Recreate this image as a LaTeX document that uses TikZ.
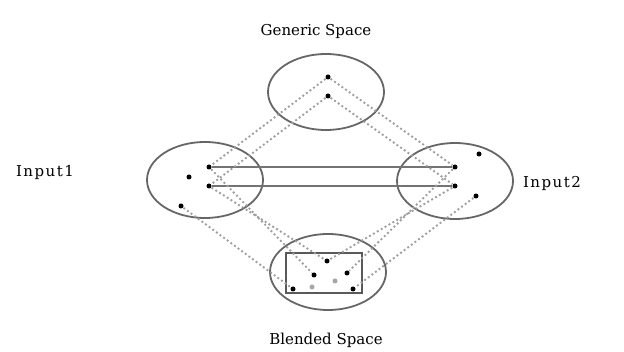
\documentclass[tikz,border=0pt]{standalone}
\usepackage{fontspec}
\setmainfont{DejaVu Serif}
\newfontfamily\spacedserif[LetterSpace=10]{DejaVu Serif}
\usetikzlibrary{shapes.geometric}

\begin{document}
\begin{tikzpicture}
[x=1pt, y=-1pt, line width=1.2pt,
space/.style={ellipse, draw=black!60, line width=1.8pt, minimum width=116pt, minimum height=76pt, inner sep=0pt},
element/.style={circle, fill=black, inner sep=0pt, minimum size=5pt},
faint/.style={element, fill=black!35},
projection/.style={draw=black!38, line width=1.9pt, dash pattern=on 1.9pt off 2.6pt},
counterpart/.style={draw=black!55, line width=2pt},
label/.style={font=\fontsize{15}{18}\selectfont}]

\useasboundingbox (0, 0) rectangle (624, 352);

\node[space] (generic) at (326, 92) {};
\node[space] (input1) at (205, 180) {};
\node[space] (input2) at (455, 181) {};
\node[space] (blend) at (328, 272) {};
\node[draw=black!65, line width=2.2pt, minimum width=76pt, minimum height=40pt, inner sep=0pt] (emergent) at (324, 273) {};

\node[element] (g1) at (328, 77) {};
\node[element] (g2) at (328, 96) {};

\node[element] (a1) at (209, 167) {};
\node[element] (a2) at (189, 177) {};
\node[element] (a3) at (209, 186) {};
\node[element] (a4) at (181, 206) {};

\node[element] (b1) at (479, 154) {};
\node[element] (b2) at (455, 167) {};
\node[element] (b3) at (455, 186) {};
\node[element] (b4) at (476, 196) {};

\node[element] (e1) at (327, 261) {};
\node[element] (e2) at (314, 275) {};
\node[element] (e3) at (347, 273) {};
\node[element] (e4) at (293, 289) {};
\node[element] (e5) at (353, 289) {};
\node[faint] (f1) at (312, 287) {};
\node[faint] (f2) at (335, 281) {};

% cross-space mapping
\draw[counterpart] (a1) -- (b2);
\draw[counterpart] (a3) -- (b3);

% generic -> inputs -> blend
\foreach \from/\to in {g1/a1, g2/a3, g1/b2, g2/b3,
                       a1/e2, a3/e1, a4/e4, b2/e3, b3/e1, b4/e5} {
    \draw[projection] (\from) -- (\to);
}

\node[label] (genericlabel) at (316, 31) {Generic Space};
\node[label, font=\fontsize{15}{18}\spacedserif] (input1label) at (45, 172) {Input1};
\node[label, font=\fontsize{15}{18}\spacedserif] (input2label) at (552, 183) {Input2};
\node[label] (blendlabel) at (326, 340) {Blended Space};

\end{tikzpicture}
\end{document}
